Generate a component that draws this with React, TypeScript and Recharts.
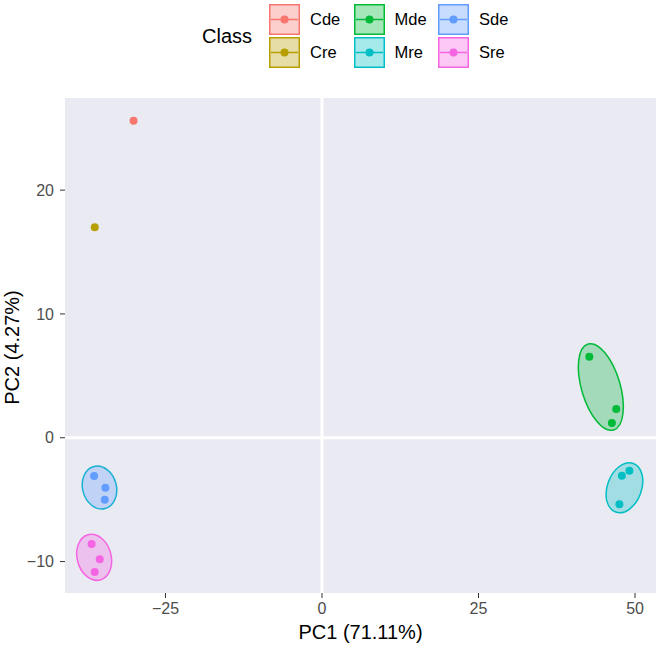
import {
  ScatterChart,
  Scatter,
  XAxis,
  YAxis,
  ReferenceLine,
  CartesianGrid,
  Legend,
  Label,
} from "recharts"

const classes = ["Cde", "Cre", "Mde", "Mre", "Sde", "Sre"]
const classColors = ["#F8766D", "#B79F00", "#00BA38", "#00BFC4", "#619CFF", "#F564E3"]

// PCA scores, one list per class
const pc1 = [
  [-30.1],
  [-36.3],
  [42.7, 47.0, 46.3],
  [49.1, 47.9, 47.5],
  [-36.4, -34.6, -34.7],
  [-36.8, -35.5, -36.3],
]
const pc2 = [
  [25.6],
  [17.0],
  [6.54, 2.32, 1.19],
  [-2.67, -3.07, -5.38],
  [-3.09, -4.04, -5.01],
  [-8.59, -9.82, -10.85],
]

// confidence ellipses: centre and two semi axes, in PC units
const ellipseClasses = ["Mde", "Mre", "Sde", "Sre"]
const ellipseCenter = [
  [44.54, 4.1],
  [48.31, -4.04],
  [-35.54, -4.02],
  [-36.39, -9.66],
]
const ellipseMajor = [
  [-2.04, 3.47],
  [1.41, 1.96],
  [-0.9, 1.7],
  [-0.966, 1.823],
]
const ellipseMinor = [
  [2.96, 0.44],
  [2.57, -0.47],
  [2.61, 0.354],
  [2.62, 0.355],
]
const ellipseStroke = ["#00BA38", "#00BFC4", "#19B2D4", "#F564E3"]

const xTicks = [-25, 0, 25, 50]
const yTicks = [-10, 0, 10, 20]
const xDomain = [-41.05, 53.35]
const yDomain = [-12.54, 27.44]

const W = 661
const H = 649
const MARGIN = { top: 98, right: 5, bottom: 0, left: 0 }
const Y_AXIS_W = 65
const X_AXIS_H = 56
// px per PC unit, used to stretch the ellipses
const kx = (W - MARGIN.left - MARGIN.right - Y_AXIS_W) / (xDomain[1] - xDomain[0])
const ky = (H - MARGIN.top - MARGIN.bottom - X_AXIS_H) / (yDomain[1] - yDomain[0])

const FONT = "'Liberation Sans', Arial, Helvetica, sans-serif"

const pointData = classes.map((_, i) => pc1[i].map((x, j) => ({ x, y: pc2[i][j] })))
const ellipseData = ellipseClasses.map((c, i) => ({
  x: ellipseCenter[i][0],
  y: ellipseCenter[i][1],
  major: ellipseMajor[i],
  minor: ellipseMinor[i],
  cls: c,
}))

const minus = (v: number) => String(v).replace("-", "\u2212")

const Ellipse = (props: any) => {
  const { cx, cy, payload, color, stroke } = props
  const [ux, uy] = payload.major
  const [vx, vy] = payload.minor
  return (
    <circle
      r={1}
      transform={`matrix(${kx * ux} ${-ky * uy} ${kx * vx} ${-ky * vy} ${cx} ${cy})`}
      fill={color}
      fillOpacity={0.3}
      stroke={stroke}
      strokeWidth={1.5}
      vectorEffect="non-scaling-stroke"
    />
  )
}

const Dot = (props: any) => <circle cx={props.cx} cy={props.cy} r={4} fill={props.color} />

const ClassLegend = () => (
  <div style={{ position: "relative", width: W, height: 70, fontFamily: FONT }}>
    <div style={{ position: "absolute", left: 202, top: 24, fontSize: 20, lineHeight: "24px" }}>Class</div>
    {classes.map((c, i) => {
      const col = Math.floor(i / 2)
      const row = i % 2
      const left = 269 + col * 84.5
      const top = 3.5 + row * 33
      return (
        <div key={c}>
          <svg
            width={31}
            height={31}
            style={{ position: "absolute", left, top }}
          >
            <rect x={0.75} y={0.75} width={29.5} height={29.5} fill={classColors[i]} fillOpacity={0.35} stroke={classColors[i]} strokeWidth={1.5} />
            <line x1={2} x2={29} y1={15.5} y2={15.5} stroke={classColors[i]} strokeWidth={1.5} />
            <circle cx={15.5} cy={15.5} r={4} fill={classColors[i]} />
          </svg>
          <div style={{ position: "absolute", left: left + 41, top: top + 5, fontSize: 16.5, lineHeight: "20px" }}>{c}</div>
        </div>
      )
    })}
  </div>
)

export default function App() {
  return (
    <div style={{ position: "absolute", left: 0, top: 0, fontFamily: FONT }}>
      <ScatterChart width={W} height={H} margin={MARGIN}>
        <CartesianGrid fill="#EAEAF2" horizontal={false} vertical={false} stroke="none" />
        <XAxis
          type="number"
          dataKey="x"
          domain={xDomain}
          ticks={xTicks}
          allowDataOverflow
          height={X_AXIS_H}
          axisLine={false}
          tickLine={{ stroke: "#333333" }}
          tickSize={5}
          tickMargin={5}
          tick={{ fill: "#4D4D4D", fontSize: 16 }}
          tickFormatter={minus}
        >
          <Label
            content={(p: any) => (
              <text x={p.viewBox.x + p.viewBox.width / 2} y={p.viewBox.y + 46} textAnchor="middle" fontSize={20} fill="#000">
                PC1 (71.11%)
              </text>
            )}
          />
        </XAxis>
        <YAxis
          type="number"
          dataKey="y"
          domain={yDomain}
          ticks={yTicks}
          allowDataOverflow
          width={Y_AXIS_W}
          axisLine={false}
          tickLine={{ stroke: "#333333" }}
          tickSize={5}
          tickMargin={6}
          tick={{ fill: "#4D4D4D", fontSize: 16 }}
          tickFormatter={minus}
        >
          <Label
            content={(p: any) => {
              const cy = p.viewBox.y + p.viewBox.height / 2 + 2
              return (
                <text x={11.5} y={cy} transform={`rotate(-90 11.5 ${cy})`} textAnchor="middle" dominantBaseline="central" fontSize={20} fill="#000">
                  PC2 (4.27%)
                </text>
              )
            }}
          />
        </YAxis>
        <ReferenceLine x={0} stroke="#FFFFFF" strokeWidth={3} />
        <ReferenceLine y={0} stroke="#FFFFFF" strokeWidth={3} />
        <Legend
          layout="horizontal"
          verticalAlign="middle"
          align="center"
          wrapperStyle={{ top: 0, left: 0, width: W, height: 70 }}
          content={() => <ClassLegend />}
        />
        {ellipseData.map((e, i) => (
          <Scatter
            key={"ell-" + e.cls}
            data={[e]}
            legendType="none"
            isAnimationActive={false}
            shape={(p: any) => (
              <Ellipse {...p} color={classColors[classes.indexOf(e.cls)]} stroke={ellipseStroke[i]} />
            )}
          />
        ))}
        {classes.map((c, i) => (
          <Scatter
            key={c}
            name={c}
            data={pointData[i]}
            fill={classColors[i]}
            isAnimationActive={false}
            shape={(p: any) => <Dot {...p} color={classColors[i]} />}
          />
        ))}
      </ScatterChart>
    </div>
  )
}
